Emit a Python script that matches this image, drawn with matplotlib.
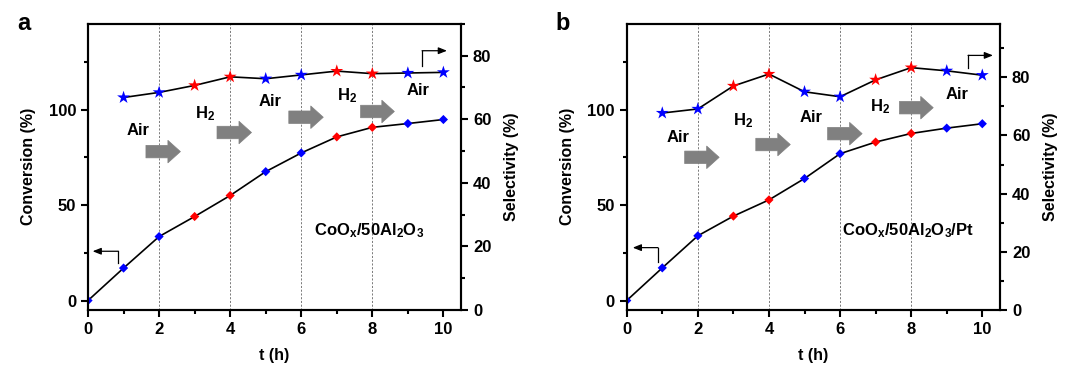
import numpy as np
import matplotlib
matplotlib.use("Agg")
import matplotlib.pyplot as plt
from matplotlib.ticker import MultipleLocator

plt.rcParams['font.family'] = ['Liberation Sans', 'DejaVu Sans']
plt.rcParams['font.weight'] = 'bold'
plt.rcParams['mathtext.fontset'] = 'custom'
plt.rcParams['mathtext.rm'] = 'Liberation Sans:bold'
plt.rcParams['mathtext.bf'] = 'Liberation Sans:bold'
plt.rcParams['mathtext.it'] = 'Liberation Sans:bold'
plt.rcParams['mathtext.default'] = 'rm'

# data
t = np.arange(0, 11)
t_sel = np.arange(1, 11)
# gas phase of each point: 'a' = air (blue), 'h' = H2 (red)
phase_conv = ['a', 'a', 'a', 'h', 'h', 'a', 'a', 'h', 'h', 'a', 'a']
phase_sel = ['a', 'a', 'h', 'h', 'a', 'a', 'h', 'h', 'a', 'a']

conv_a = [0, 17, 33.5, 44, 55, 67.5, 77.3, 85.7, 90.7, 92.7, 94.8]
sel_a = [66.8, 68.4, 70.6, 73.3, 72.7, 73.9, 75.1, 74.3, 74.5, 74.7]
conv_b = [0, 17.1, 33.9, 44.2, 52.7, 63.9, 76.9, 83, 87.5, 90.3, 92.6]
sel_b = [67.7, 69.1, 77, 81.1, 75, 73.3, 79.1, 83.3, 82.2, 80.7]

gas_labels = ['Air', 'H$_2$', 'Air', 'H$_2$', 'Air']
gas_x_a = [1.4, 3.3, 5.13, 7.3, 9.28]
gas_y_a = [89, 98, 104, 107.5, 110]
gas_x_b = [1.45, 3.27, 5.18, 7.12, 9.3]
gas_y_b = [85.6, 94, 96, 101.6, 108]

arrow_x0 = [1.63, 3.63, 5.65, 7.67]
arrow_x1 = [2.6, 4.6, 6.62, 8.62]
arrow_y_a = [78, 88, 96, 99]
arrow_y_b = [75, 81.7, 87.4, 101]

colors = {'a': '#0000ff', 'h': '#ff0000'}

fig = plt.figure(figsize=(10.8, 3.7), dpi=100)
ax_a = fig.add_axes([0.0815, 0.162, 0.3455, 0.774])
ax_b = fig.add_axes([0.5803, 0.162, 0.3457, 0.774])


def panel(ax, conv, sel, sel_top, sel_major, gx, gy, ay, sample, letter,
          lbrk, rbrk):
    ax2 = ax.twinx()
    for x in [2, 4, 6, 8]:
        ax.axvline(x, color='#666666', lw=0.6, ls=(0, (2.5, 2)), zorder=0)
    ax.plot(t, conv, color='black', lw=1.2, zorder=2)
    ax.scatter(t, conv, c=[colors[p] for p in phase_conv], marker='D',
               s=22, zorder=3, linewidths=0)
    ax2.plot(t_sel, sel, color='black', lw=1.2, zorder=2)
    ax2.scatter(t_sel, sel, c=[colors[p] for p in phase_sel], marker='*',
                s=95, zorder=3, linewidths=0)

    ax.set_xlim(0, 10.5)
    ax.set_ylim(-5, 145)
    ax2.set_ylim(0, sel_top)
    ax.xaxis.set_major_locator(MultipleLocator(2))
    ax.xaxis.set_minor_locator(MultipleLocator(1))
    ax.yaxis.set_major_locator(MultipleLocator(50))
    ax.yaxis.set_minor_locator(MultipleLocator(25))
    ax2.yaxis.set_major_locator(MultipleLocator(sel_major))
    ax2.yaxis.set_minor_locator(MultipleLocator(sel_major / 2))
    ax.set_yticks([0, 50, 100])
    for a in (ax, ax2):
        for s in a.spines.values():
            s.set_linewidth(1.5)
        a.tick_params(which='major', direction='out', length=5, width=1.5,
                      labelsize=12)
        a.tick_params(which='minor', direction='out', length=3, width=1.5)
    ax.set_xlabel('t (h)', fontsize=11.5, fontweight='bold', labelpad=8)
    ax.set_ylabel('Conversion (%)', fontsize=11.5, fontweight='bold',
                  labelpad=9)
    ax2.set_ylabel('Selectivity (%)', fontsize=11.5, fontweight='bold',
                   labelpad=9)

    for lab, x, y in zip(gas_labels, gx, gy):
        ax.text(x, y, lab, fontsize=12, fontweight='bold', ha='center',
                va='center')
    for x0, x1, y in zip(arrow_x0, arrow_x1, ay):
        ax.annotate('', xy=(x1, y), xytext=(x0, y),
                    arrowprops=dict(arrowstyle='simple,head_length=0.75,'
                                    'head_width=1.35,tail_width=0.75',
                                    mutation_scale=12, fc='#808080',
                                    ec='#808080', lw=0.5,
                                    shrinkA=0, shrinkB=0))
    ax.text(7.9, 36.6, sample, fontsize=12, fontweight='bold',
            ha='center', va='center')

    # axis indicator brackets
    (lx0, lx1, ly0, ly1) = lbrk
    ax.plot([lx0, lx0], [ly1, ly0], color='black', lw=0.9)
    ax.annotate('', xy=(lx1, ly0), xytext=(lx0, ly0),
                arrowprops=dict(arrowstyle='-|>,head_length=0.5,head_width=0.2',
                                color='black', lw=0.9, shrinkA=0, shrinkB=0))
    (rx0, rx1, ry0, ry1) = rbrk
    ax2.plot([rx0, rx0], [ry0, ry1], color='black', lw=0.9)
    ax2.annotate('', xy=(rx1, ry1), xytext=(rx0, ry1),
                 arrowprops=dict(arrowstyle='-|>,head_length=0.5,head_width=0.2',
                                 color='black', lw=0.9, shrinkA=0, shrinkB=0))
    ax.text(-0.19, 1.0, letter, transform=ax.transAxes, fontsize=17,
            fontweight='bold', ha='left', va='center')


panel(ax_a, conv_a, sel_a, 90, 20, gas_x_a, gas_y_a, arrow_y_a,
      'CoO$_x$/50Al$_2$O$_3$', 'a',
      (0.85, 0.13, 25.8, 19.5), (9.4, 10.1, 76.8, 81.5))
panel(ax_b, conv_b, sel_b, 98.4, 20, gas_x_b, gas_y_b, arrow_y_b,
      'CoO$_x$/50Al$_2$O$_3$/Pt', 'b',
      (0.88, 0.17, 27.7, 20), (9.6, 10.3, 83, 87.5))

fig.savefig('out.png', dpi=100)
